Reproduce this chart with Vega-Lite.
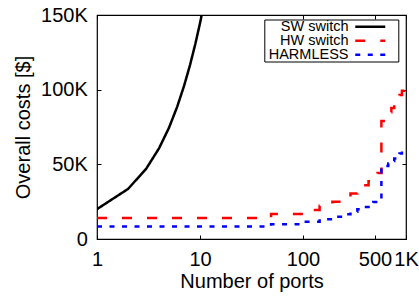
{
  "$schema": "https://vega.github.io/schema/vega-lite/v6.json",
  "width": 309,
  "height": 224,
  "autosize": "none",
  "padding": {"left": 97, "top": 15, "right": 13, "bottom": 57},
  "background": "white",
  "config": {
    "font": "Liberation Sans",
    "view": {"stroke": "black", "strokeWidth": 1.2},
    "axis": {
      "domain": false,
      "grid": false,
      "tickColor": "black",
      "tickWidth": 1,
      "tickSize": -4,
      "labelColor": "black",
      "labelFontSize": 20,
      "labelFont": "Liberation Sans",
      "titleFont": "Liberation Sans",
      "titleFontSize": 20,
      "titleFontWeight": "normal",
      "titleColor": "black",
      "labelOverlap": false,
      "labelFlush": false,
      "labelBound": false
    },
    "legend": {
      "orient": "none",
      "legendX": 167.3,
      "legendY": 4.5,
      "labelFont": "Liberation Sans",
      "labelFontSize": 14.5,
      "labelColor": "black",
      "labelAlign": "right",
      "labelOffset": -29,
      "symbolOffset": 98.7,
      "symbolType": "M-3,0H3",
      "symbolSize": 100,
      "symbolStrokeWidth": 2.5,
      "strokeColor": "black",
      "fillColor": "white",
      "padding": 0,
      "rowPadding": -2.6,
      "cornerRadius": 0,
      "titleOrient": "right",
      "titleFontSize": 1,
      "titlePadding": 8
    }
  },
  "data": {
    "values": [
      {"series": "SW switch", "ports": 1, "cost": 20000},
      {"series": "SW switch", "ports": 2, "cost": 33500},
      {"series": "SW switch", "ports": 3, "cost": 47000},
      {"series": "SW switch", "ports": 4, "cost": 60700},
      {"series": "SW switch", "ports": 5, "cost": 74500},
      {"series": "SW switch", "ports": 6, "cost": 88500},
      {"series": "SW switch", "ports": 7, "cost": 102500},
      {"series": "SW switch", "ports": 8, "cost": 116500},
      {"series": "SW switch", "ports": 9, "cost": 130500},
      {"series": "SW switch", "ports": 10, "cost": 144500},
      {"series": "SW switch", "ports": 11, "cost": 158500},
      {"series": "HW switch", "ports": 1, "cost": 14000},
      {"series": "HW switch", "ports": 49, "cost": 16750},
      {"series": "HW switch", "ports": 97, "cost": 19500},
      {"series": "HW switch", "ports": 145, "cost": 22250},
      {"series": "HW switch", "ports": 193, "cost": 25000},
      {"series": "HW switch", "ports": 241, "cost": 27750},
      {"series": "HW switch", "ports": 289, "cost": 30500},
      {"series": "HW switch", "ports": 337, "cost": 33250},
      {"series": "HW switch", "ports": 385, "cost": 36000},
      {"series": "HW switch", "ports": 433, "cost": 38750},
      {"series": "HW switch", "ports": 481, "cost": 41500},
      {"series": "HW switch", "ports": 529, "cost": 44250},
      {"series": "HW switch", "ports": 577, "cost": 79000},
      {"series": "HW switch", "ports": 625, "cost": 81900},
      {"series": "HW switch", "ports": 673, "cost": 84800},
      {"series": "HW switch", "ports": 721, "cost": 87700},
      {"series": "HW switch", "ports": 769, "cost": 90600},
      {"series": "HW switch", "ports": 817, "cost": 93500},
      {"series": "HW switch", "ports": 865, "cost": 96400},
      {"series": "HW switch", "ports": 913, "cost": 99300},
      {"series": "HW switch", "ports": 961, "cost": 102200},
      {"series": "HW switch", "ports": 1000, "cost": 102200},
      {"series": "HARMLESS", "ports": 1, "cost": 8300},
      {"series": "HARMLESS", "ports": 49, "cost": 9950},
      {"series": "HARMLESS", "ports": 97, "cost": 11600},
      {"series": "HARMLESS", "ports": 145, "cost": 13250},
      {"series": "HARMLESS", "ports": 193, "cost": 14900},
      {"series": "HARMLESS", "ports": 241, "cost": 16550},
      {"series": "HARMLESS", "ports": 289, "cost": 18200},
      {"series": "HARMLESS", "ports": 337, "cost": 19850},
      {"series": "HARMLESS", "ports": 385, "cost": 21500},
      {"series": "HARMLESS", "ports": 433, "cost": 23150},
      {"series": "HARMLESS", "ports": 481, "cost": 24800},
      {"series": "HARMLESS", "ports": 529, "cost": 26450},
      {"series": "HARMLESS", "ports": 577, "cost": 47300},
      {"series": "HARMLESS", "ports": 625, "cost": 48950},
      {"series": "HARMLESS", "ports": 673, "cost": 50600},
      {"series": "HARMLESS", "ports": 721, "cost": 52250},
      {"series": "HARMLESS", "ports": 769, "cost": 53900},
      {"series": "HARMLESS", "ports": 817, "cost": 55550},
      {"series": "HARMLESS", "ports": 865, "cost": 57200},
      {"series": "HARMLESS", "ports": 913, "cost": 58850},
      {"series": "HARMLESS", "ports": 961, "cost": 60500},
      {"series": "HARMLESS", "ports": 1000, "cost": 60500}
    ]
  },
  "layer": [
    {
      "layer": [
        {
          "transform": [{"filter": "datum.series == 'SW switch'"}],
          "mark": {"type": "line", "strokeWidth": 2.5, "clip": true}
        },
        {
          "transform": [{"filter": "datum.series != 'SW switch'"}],
          "mark": {"type": "line", "strokeWidth": 2.5, "interpolate": "step-after", "clip": true}
        }
      ],
      "encoding": {
        "x": {
          "field": "ports",
          "type": "quantitative",
          "scale": {"type": "log", "domain": [1, 1000], "nice": false},
          "axis": {
            "values": [1, 10, 100, 500, 1000],
            "labelExpr": "datum.value == 1000 ? '1K' : format(datum.value, 'd')",
            "labelPadding": 14.5,
            "title": "Number of ports",
            "titlePadding": 2
          }
        },
        "y": {
          "field": "cost",
          "type": "quantitative",
          "scale": {"domain": [0, 150000], "nice": false},
          "axis": {
            "values": [0, 50000, 100000, 150000],
            "labelExpr": "datum.value == 0 ? '0' : (datum.value / 1000) + 'K'",
            "labelPadding": 13.7,
            "title": "Overall costs [$]",
            "titlePadding": 7
          }
        },
        "color": {
          "field": "series",
          "type": "nominal",
          "scale": {"domain": ["SW switch", "HW switch", "HARMLESS"], "range": ["#000000", "#ff0000", "#0000ff"]},
          "legend": {"title": " "}
        },
        "strokeDash": {
          "field": "series",
          "type": "nominal",
          "scale": {"domain": ["SW switch", "HW switch", "HARMLESS"], "range": [[1, 0], [10, 15], [5, 7.5]]},
          "legend": {"title": " "}
        }
      }
    },
    {
      "transform": [{"filter": "datum.ports == 1"}],
      "mark": {"type": "point", "opacity": 0, "clip": true},
      "encoding": {
        "x": {
          "field": "ports",
          "type": "quantitative",
          "axis": {"orient": "top", "values": [1, 10, 100, 500, 1000], "labels": false, "title": null}
        },
        "y": {
          "field": "cost",
          "type": "quantitative",
          "axis": {"orient": "right", "values": [0, 50000, 100000, 150000], "labels": false, "title": null}
        }
      }
    }
  ],
  "resolve": {"axis": {"x": "independent", "y": "independent"}}
}
